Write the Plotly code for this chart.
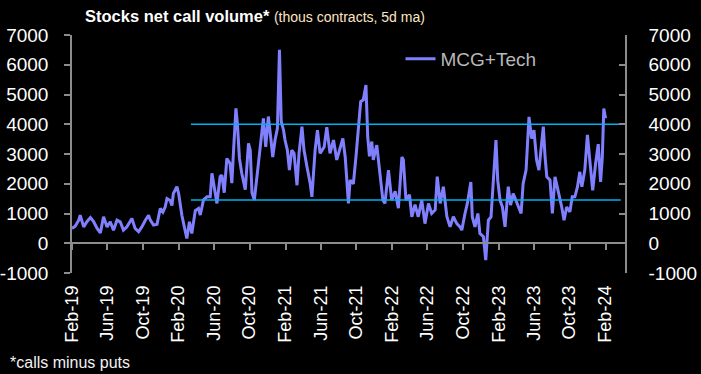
import plotly.graph_objects as go

# ---- data ----
dates = [
    "2019-02-01", "2019-02-12", "2019-02-24", "2019-03-01", "2019-03-13", "2019-03-24", "2019-04-05", "2019-04-16",
    "2019-04-28", "2019-05-09", "2019-05-20", "2019-06-01", "2019-06-12", "2019-06-23", "2019-07-05", "2019-07-16",
    "2019-07-27", "2019-08-08", "2019-08-25", "2019-09-05", "2019-09-17", "2019-09-28", "2019-10-10", "2019-10-21",
    "2019-10-27", "2019-11-07", "2019-11-19", "2019-11-30", "2019-12-09", "2019-12-17", "2019-12-23", "2020-01-03",
    "2020-01-09", "2020-01-14", "2020-01-26", "2020-02-01", "2020-02-12", "2020-02-23", "2020-02-29", "2020-03-09",
    "2020-03-17", "2020-03-29", "2020-04-09", "2020-04-15", "2020-04-26", "2020-05-08",
    "2020-05-19", "2020-05-25", "2020-06-05", "2020-06-11", "2020-06-22", "2020-06-28", "2020-07-06", "2020-07-15",
    "2020-07-26", "2020-08-01", "2020-08-07", "2020-08-15", "2020-08-20", "2020-08-27", "2020-09-04", "2020-09-16",
    "2020-09-27", "2020-10-03", "2020-10-09", "2020-10-17", "2020-10-26", "2020-11-06", "2020-11-17", "2020-11-25",
    "2020-12-04", "2020-12-13", "2020-12-19", "2020-12-27", "2021-01-04", "2021-01-11", "2021-01-17", "2021-01-25",
    "2021-01-30", "2021-02-07", "2021-02-14", "2021-02-22", "2021-03-02", "2021-03-12", "2021-03-19", "2021-03-29",
    "2021-04-05", "2021-04-15", "2021-04-26", "2021-05-02", "2021-05-13", "2021-05-21", "2021-05-30", "2021-06-13",
    "2021-06-22", "2021-07-03", "2021-07-15", "2021-07-26",
    "2021-08-07", "2021-08-16", "2021-08-24", "2021-09-04", "2021-09-10", "2021-09-21", "2021-09-30", "2021-10-08",
    "2021-10-16", "2021-10-25", "2021-11-03", "2021-11-09", "2021-11-15", "2021-11-23", "2021-11-28", "2021-12-10",
    "2021-12-19", "2021-12-31", "2022-01-07", "2022-01-19", "2022-01-30", "2022-02-11", "2022-02-22", "2022-03-06",
    "2022-03-11", "2022-03-20", "2022-04-01", "2022-04-09", "2022-04-20", "2022-05-01", "2022-05-13", "2022-05-24",
    "2022-06-05", "2022-06-16", "2022-06-28", "2022-07-05", "2022-07-15", "2022-07-26", "2022-08-07", "2022-08-18",
    "2022-08-29", "2022-09-10", "2022-09-21", "2022-09-27", "2022-10-08", "2022-10-16",
    "2022-10-28", "2022-11-02", "2022-11-11", "2022-11-21", "2022-11-28", "2022-12-10", "2022-12-18", "2022-12-27",
    "2023-01-05", "2023-01-13", "2023-01-22", "2023-01-28", "2023-02-05", "2023-02-13", "2023-02-22", "2023-03-05",
    "2023-03-13", "2023-03-22", "2023-04-03", "2023-04-18", "2023-04-25", "2023-05-05", "2023-05-15", "2023-05-24",
    "2023-06-01", "2023-06-10", "2023-06-18", "2023-07-03", "2023-07-09", "2023-07-15", "2023-07-26", "2023-08-03",
    "2023-08-12", "2023-08-23", "2023-09-04", "2023-09-12", "2023-09-21", "2023-10-02", "2023-10-10", "2023-10-19",
    "2023-10-28", "2023-11-05", "2023-11-12", "2023-11-22", "2023-12-01", "2023-12-09", "2023-12-19", "2023-12-29",
    "2024-01-07", "2024-01-15", "2024-01-21", "2024-01-26", "2024-02-01",
]
mcg_tech = [
    500, 570, 775, 940, 550, 725, 865, 725,
    500, 350, 890, 550, 725, 440, 775, 720,
    440, 550, 830, 500, 390, 550, 775, 940,
    775, 610, 640, 1170, 1050, 1220, 1500, 1440,
    1270, 1670, 1900, 1670, 940, 440, 160, 725,
    330, 1100, 1170, 950, 1460, 1560,
    1560, 2350, 1700, 1340, 2240, 2290, 1700, 2850,
    2680, 2020, 3130, 4535, 4030, 2850, 2350, 1800,
    3360, 3130, 1700, 1450, 2240, 3130, 4200, 3240,
    4260, 3470, 2900, 3470, 3860, 6500, 4100, 3800,
    3470, 3130, 2460, 3130, 3020, 1950, 3020, 3920,
    3130, 2580, 2020, 1560, 3130, 3800, 3020, 3240,
    3900, 3020, 3470, 2800,
    3250, 3520, 2900, 1340, 2120, 2000, 2920, 3800,
    4760, 4820, 5320, 3580, 2920, 3420, 2800, 3300,
    2580, 1450, 1340, 2460, 1450, 1750, 1180, 2900,
    2800, 1450, 1630, 890, 1300, 890, 1450, 660,
    1340, 1000, 1120, 2240, 1340, 1900, 890, 550,
    890, 660, 550, 440, 1000, 1340,
    2060, 885, 550, 1000, 330, 220, -570, 775,
    885, 2010, 3470, 2120, 1450, 1220, 550, 1900,
    1280, 1670, 1340, 1000, 2010, 2460, 4250, 3520,
    3800, 2800, 2460, 3920, 2900, 2230, 2120, 1000,
    2230, 1780, 1220, 775, 1220, 1055, 1560, 1560,
    1900, 2400, 1900, 2460, 3640, 2800, 1780, 2680,
    3330, 2060, 2900, 4530, 4200,
]
assert len(dates) == len(mcg_tech)

band_levels = [4000, 1450]
band_dates = ["2020-03-14", "2024-03-24"]
y_ticks = [-1000, 0, 1000, 2000, 3000, 4000, 5000, 6000, 7000]
y_tick_text = ["-1000", "0", "1000", "2000", "3000", "4000", "5000", "6000", "7000"]
x_range = ["2019-02-01", "2024-04-11"]
y_range = [-1000, 7000]

AX = "#8C8C8C"
FONT = "Liberation Sans, Arial, sans-serif"

fig = go.Figure()
fig.add_trace(go.Scatter(
    x=dates, y=mcg_tech, mode="lines", name="MCG+Tech",
    line=dict(color="#8080FF", width=3),
))
for lv in band_levels:
    fig.add_trace(go.Scatter(
        x=band_dates, y=[lv, lv], mode="lines", showlegend=False,
        line=dict(color="#00B0F0", width=1.5), xaxis="x2", yaxis="y2", hoverinfo="skip",
    ))

fig.update_layout(
    width=701, height=374, autosize=False,
    margin=dict(l=72, r=75, t=35, b=101),
    paper_bgcolor="black", plot_bgcolor="black",
    font=dict(family=FONT, color="white", size=19),
    showlegend=True,
    legend=dict(x=0.593, y=0.9, xanchor="left", yanchor="middle",
                bgcolor="rgba(0,0,0,0)", font=dict(size=19, color="#B8B8B8")),
    xaxis=dict(type="date", range=x_range, tick0="2019-02-01", dtick="M4", tickformat="%b-%y",
               tickangle=-90, showline=False, showgrid=False, zeroline=False, ticks="",
               ticklabelstandoff=8, automargin=False, tickfont=dict(size=18, color="white")),
    xaxis2=dict(type="date", range=x_range, overlaying="x", anchor="free", position=0.125,
                tick0="2019-02-01", dtick="M4", showticklabels=False, showline=True,
                linecolor=AX, linewidth=1.5, ticks="outside", ticklen=6, tickcolor=AX, tickwidth=1.5,
                showgrid=False, zeroline=False, automargin=False),
    yaxis=dict(range=y_range, tickvals=y_ticks, ticktext=y_tick_text, showline=True, linecolor=AX,
               linewidth=1.5, ticks="outside", ticklen=6, tickcolor=AX, tickwidth=1.5, showgrid=False,
               zeroline=False, ticklabelstandoff=12, automargin=False,
               tickfont=dict(size=19, color="white")),
    yaxis2=dict(range=y_range, tickvals=y_ticks, ticktext=y_tick_text, overlaying="y", side="right",
                anchor="free", position=1, showline=True, linecolor=AX, linewidth=1.5, ticks="inside",
                ticklen=6, tickcolor=AX, tickwidth=1.5, showgrid=False, zeroline=False,
                ticklabelstandoff=18, automargin=False, tickfont=dict(size=19, color="white")),
    annotations=[
        dict(xref="paper", yref="paper", x=0.0199, y=1.08, xanchor="left", yanchor="middle",
             showarrow=False,
             text="<b>Stocks net call volume*</b> <span style='color:#FFE4C4;font-size:14px'>(thous contracts, 5d ma)</span>",
             font=dict(family=FONT, size=16.5, color="white")),
        dict(xref="paper", yref="paper", x=-0.1155, y=-0.376, xanchor="left", yanchor="middle",
             showarrow=False, text="*calls minus puts",
             font=dict(family=FONT, size=16, color="#F2F2F2")),
    ],
)

fig.write_html(
    "out.html",
    config={"displayModeBar": False},
    post_script="document.body.style.margin='0';document.body.style.background='black';",
)
